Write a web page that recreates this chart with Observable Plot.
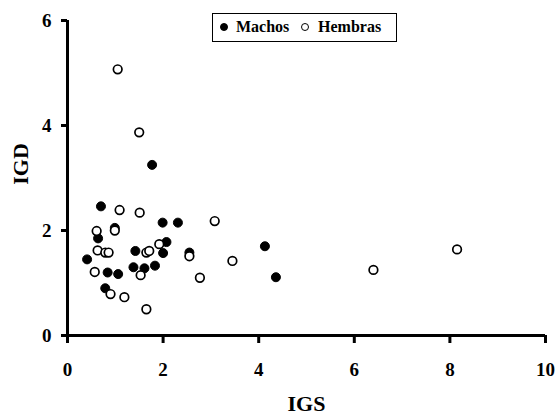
<!DOCTYPE html>
<html>
<head>
<meta charset="utf-8">
<script src="https://cdn.jsdelivr.net/npm/d3@7"></script>
<script src="https://cdn.jsdelivr.net/npm/@observablehq/plot@0.6"></script>
<style>
  body { margin: 0; background: #fff; }
  #wrap { position: relative; width: 555px; height: 418px; }
  #legend {
    position: absolute; left: 212px; top: 13px; width: 185px; height: 29px;
    border: 1.5px solid #000; box-sizing: border-box; background: #fff;
    font-family: "Liberation Serif", serif; font-weight: bold; font-size: 16px; line-height: 16px;
  }
  #legend span { position: absolute; top: 5px; }
  .sw { position: absolute; top: 9px; width: 8px; height: 8px; border-radius: 50%; border: 1.4px solid #000; box-sizing: border-box; }
</style>
</head>
<body>
<div id="wrap"></div>
<script>
const machosIGS = [1.77, 0.70, 0.99, 0.64, 1.99, 2.31, 2.07, 2.00, 1.42, 0.41, 0.84, 1.06, 1.38, 1.61, 1.83, 0.79, 2.55, 4.13, 4.36];
const machosIGD = [3.25, 2.46, 2.05, 1.85, 2.15, 2.15, 1.78, 1.57, 1.61, 1.45, 1.20, 1.17, 1.30, 1.28, 1.33, 0.90, 1.58, 1.70, 1.11];
const hembrasIGS = [1.05, 1.50, 1.09, 1.51, 3.08, 0.61, 0.99, 0.63, 0.79, 0.86, 1.65, 1.71, 1.92, 2.55, 0.57, 1.53, 2.77, 0.90, 1.19, 1.65, 3.45, 8.15, 6.40];
const hembrasIGD = [5.07, 3.87, 2.39, 2.34, 2.18, 1.99, 2.00, 1.62, 1.58, 1.58, 1.58, 1.61, 1.74, 1.51, 1.21, 1.15, 1.10, 0.79, 0.73, 0.50, 1.42, 1.64, 1.25];
const xTicks = [0, 2, 4, 6, 8, 10];
const yTicks = [0, 2, 4, 6];
const series = ["Machos", "Hembras"];

const data = [
  ...machosIGS.map((x, i) => ({IGS: x, IGD: machosIGD[i], sexo: series[0]})),
  ...hembrasIGS.map((x, i) => ({IGS: x, IGD: hembrasIGD[i], sexo: series[1]}))
];

const chart = Plot.plot({
  width: 555,
  height: 418,
  marginLeft: 67,
  marginRight: 10,
  marginTop: 20,
  marginBottom: 83,
  style: {fontFamily: "'Liberation Serif', serif", fontWeight: "bold", fontSize: "19px", color: "#000"},
  x: {domain: [0, 10]},
  y: {domain: [0, 6]},
  marks: [
    Plot.axisX({ticks: xTicks, tickFormat: "d", tickSize: 8, tickPadding: 19, fontSize: 19, strokeWidth: 3,
      label: "IGS", labelAnchor: "center", labelOffset: 75, labelArrow: "none"}),
    Plot.axisY({ticks: yTicks, tickFormat: "d", tickSize: 6, tickPadding: 10, fontSize: 19, strokeWidth: 3,
      label: "IGD", labelAnchor: "center", labelOffset: 55, labelArrow: "none"}),
    Plot.ruleX([0], {stroke: "#000", strokeWidth: 3}),
    Plot.ruleY([0], {stroke: "#000", strokeWidth: 3}),
    Plot.dot(data.filter(d => d.sexo === series[0]), {x: "IGS", y: "IGD", r: 4.5, fill: "#000", stroke: "#000", strokeWidth: 1}),
    Plot.dot(data.filter(d => d.sexo === series[1]), {x: "IGS", y: "IGD", r: 4.3, fill: "#fff", stroke: "#000", strokeWidth: 1.7})
  ]
});
chart.querySelectorAll("text").forEach(t => {
  t.style.fontWeight = "bold";
  t.style.fontFamily = "'Liberation Serif', serif";
});
chart.querySelectorAll("g[aria-label='x-axis label'] text, g[aria-label='y-axis label'] text").forEach(t => t.style.fontSize = "22px");
chart.querySelectorAll("g[aria-label='y-axis label'] text").forEach(t => t.setAttribute("dx", 14));
chart.querySelectorAll("g[aria-label='x-axis tick label'] text, g[aria-label='y-axis tick label'] text").forEach(t => t.style.fontSize = "19px");
const wrap = document.getElementById("wrap");
wrap.appendChild(chart);
const legend = document.createElement("div");
legend.id = "legend";
legend.innerHTML = `<i class="sw" style="left:7px;background:#000"></i><span style="left:23px">${series[0]}</span>` +
  `<i class="sw" style="left:88px;background:#fff"></i><span style="left:105px">${series[1]}</span>`;
wrap.appendChild(legend);
</script>
</body>
</html>
